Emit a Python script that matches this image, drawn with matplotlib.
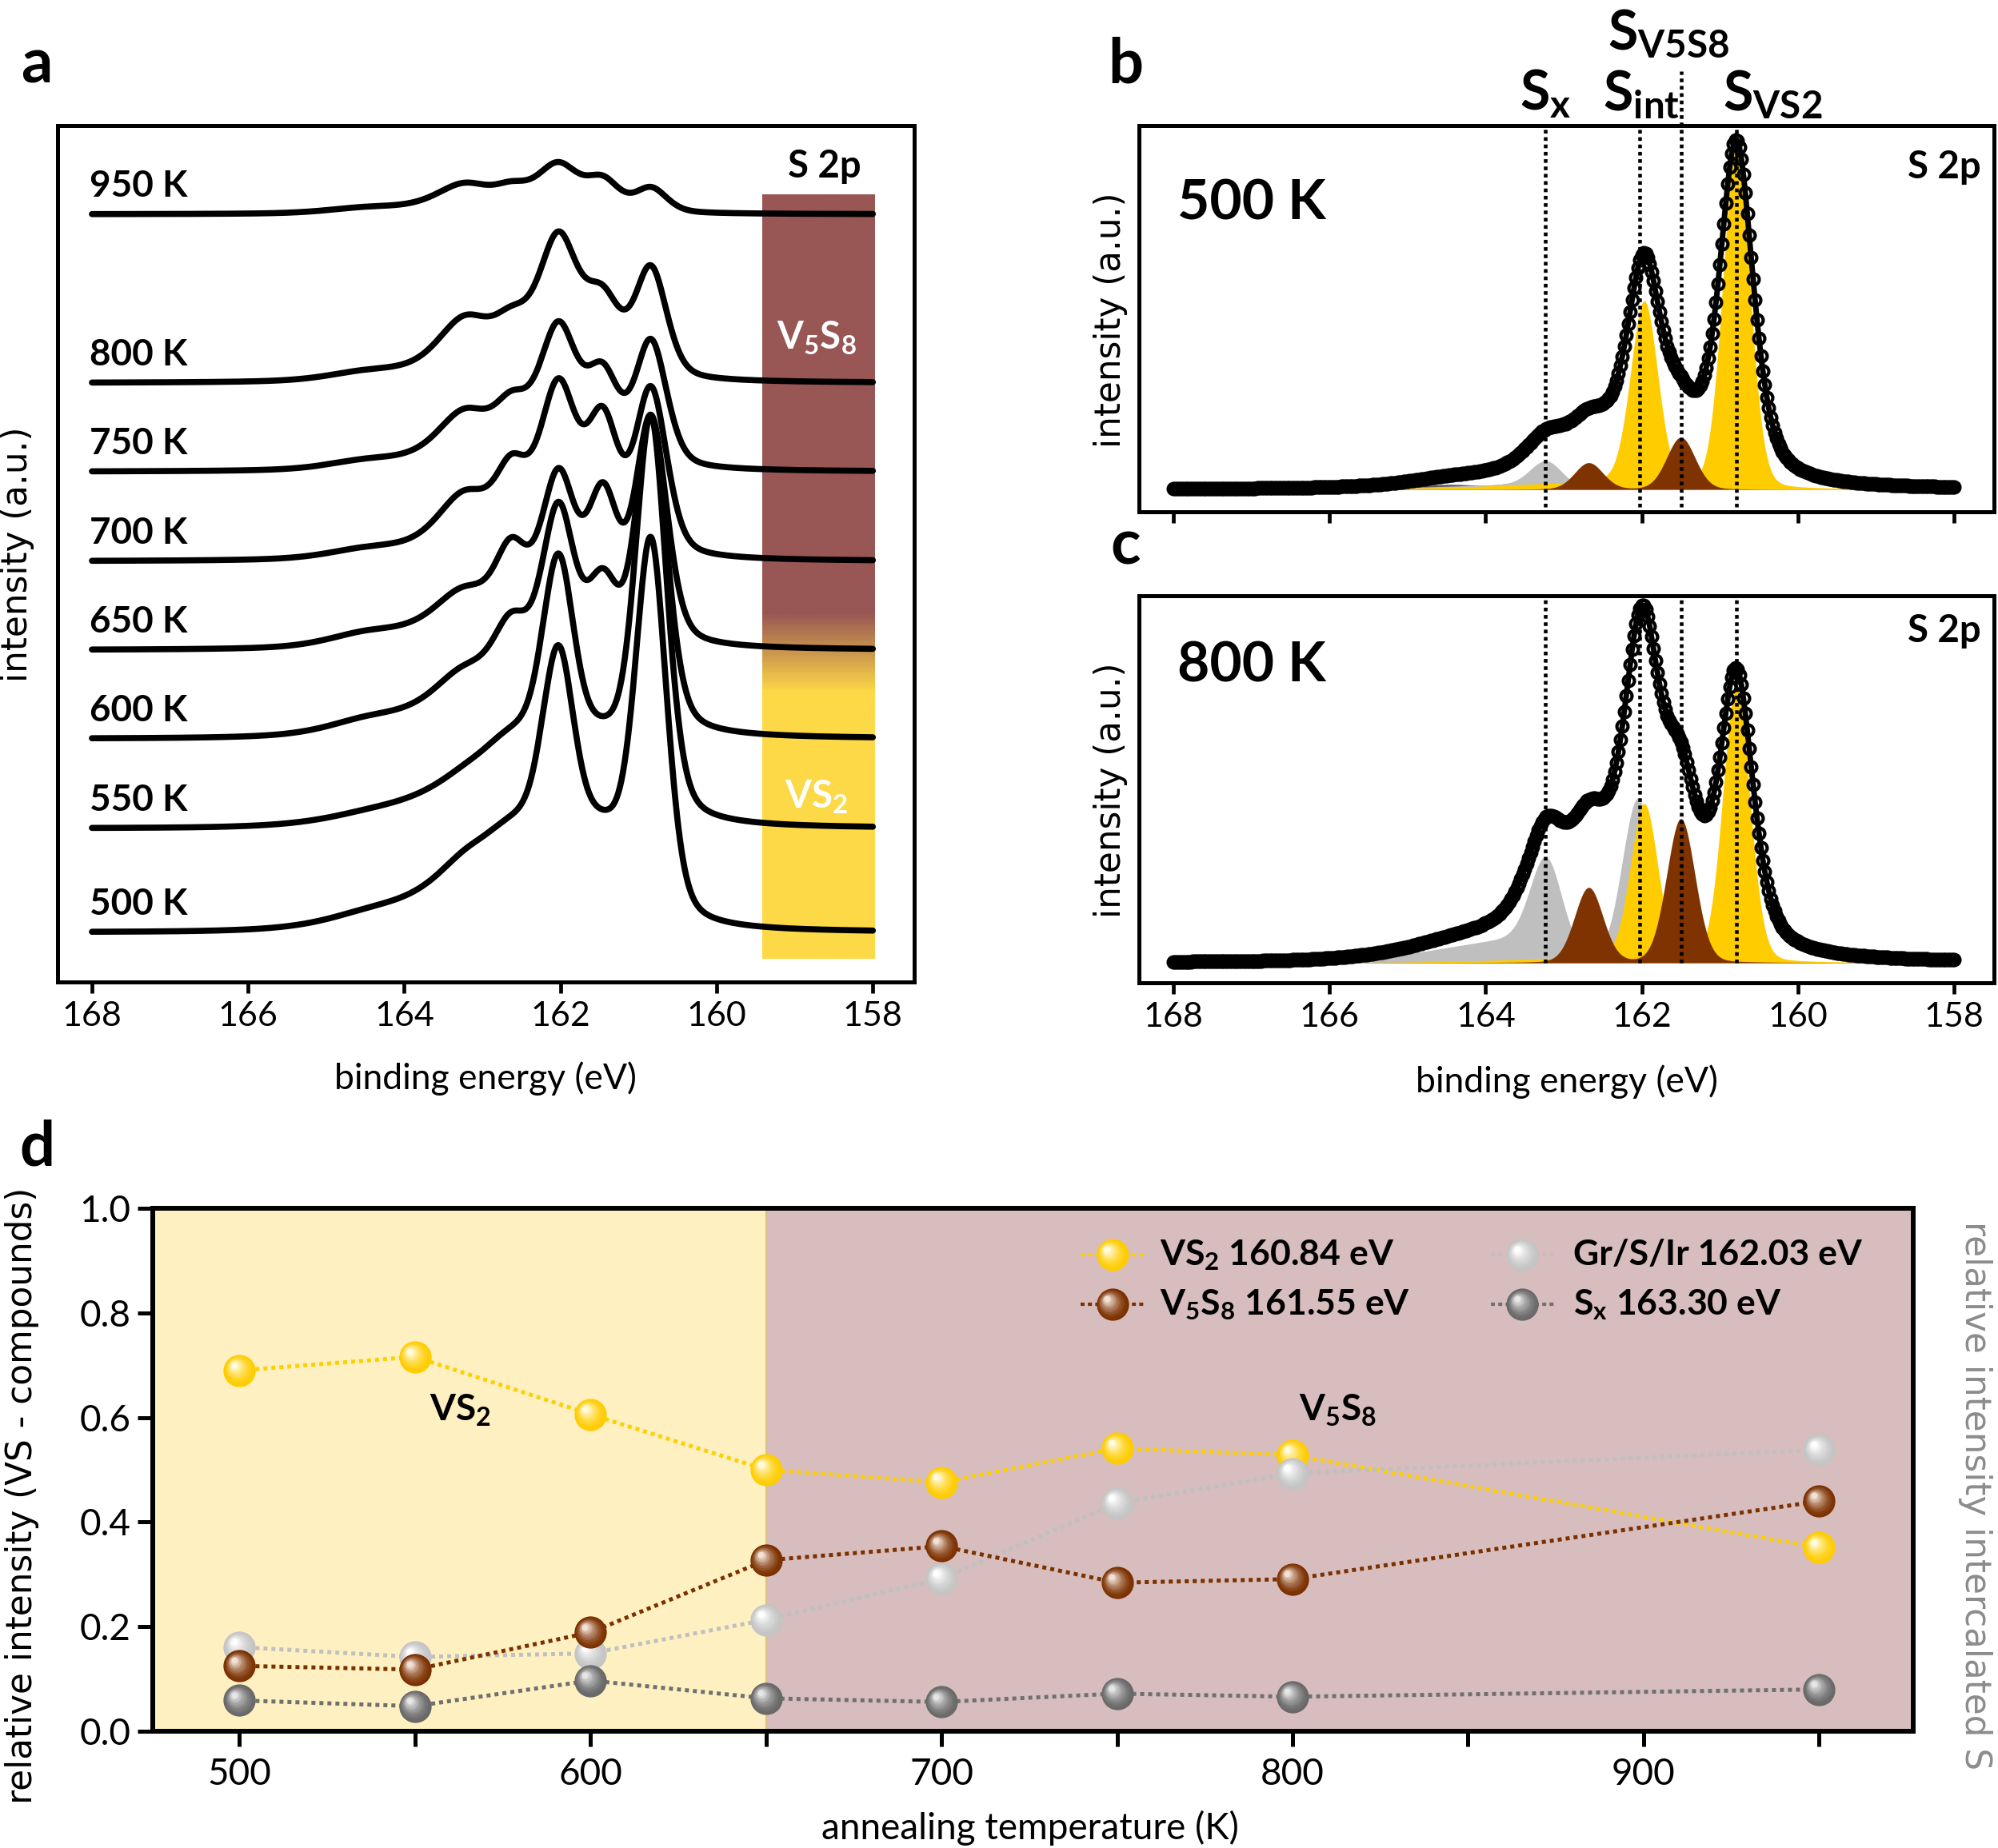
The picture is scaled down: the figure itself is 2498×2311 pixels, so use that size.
import numpy as np
import matplotlib
matplotlib.use('Agg')
import matplotlib.pyplot as plt
from matplotlib import font_manager, transforms
from matplotlib.colors import LinearSegmentedColormap, to_rgb


def pick(*names):
    have = {f.name for f in font_manager.fontManager.ttflist}
    for n in names:
        if n in have:
            return n
    return 'DejaVu Sans'


SANS = pick('Lato', 'Open Sans', 'Noto Sans')
WIDE = 'DejaVu Sans'
plt.rcParams['font.family'] = [SANS, 'DejaVu Sans']
plt.rcParams['mathtext.fontset'] = 'custom'
plt.rcParams['mathtext.rm'] = SANS
plt.rcParams['mathtext.bf'] = SANS + ':bold'
plt.rcParams['mathtext.it'] = SANS + ':italic'

# ---------------- data ----------------
# panel a: stacked S 2p spectra, described by doublet components
temps_a = [500, 550, 600, 650, 700, 750, 800, 950]
offsets_a = [62, 192, 304, 415, 526, 638, 749, 960]
comp_centers = [160.84, 161.45, 162.03, 163.30]     # VS2, V5S8, Gr/S/Ir, Sx
comp_widths = [0.48, None, 0.75, 1.15]
width_v5s8 = [0.80, 0.80, 0.55, 0.48, 0.48, 0.50, 0.55, 0.50]
amp_vs2 = [465, 490, 385, 280, 205, 155, 135, 30]
amp_v5s8 = [100, 90, 165, 170, 150, 100, 85, 35]
amp_gr = [40, 20, 50, 55, 100, 90, 100, 42]
amp_sx = [15, 8, 25, 29, 20, 19, 19, 12]
amp_tail = [60, 55, 35, 15, 10, 8, 8, 4]
spin_orbit = 1.18

# panels b, c: fit components (2p3/2 heights) at 500 K and 800 K
fit_centers = [160.79, 161.50, 162.05, 163.30]      # VS2, V5S8, Gr/S/Ir, Sx
fit_widths = [0.41, 0.43, 0.48, 0.90]
fit_500 = [425, 65, 35, 12]
ratio_500 = [0.53, 0.51, 0.85, 0.50]
tail_500 = [9, 0, 6, 0]
bg_500 = 25
fit_800 = [343, 180, 205, 8]
ratio_800 = [0.56, 0.52, 0.50, 0.50]
tail_800 = [6, 0, 30, 0]
bg_800 = 35
marker_lines = [163.24, 162.03, 161.50, 160.79]

# panel d: relative intensities
temps_d = [500, 550, 600, 650, 700, 750, 800, 950]
rel_vs2 = [0.690, 0.716, 0.606, 0.500, 0.476, 0.541, 0.528, 0.351]
rel_v5s8 = [0.125, 0.118, 0.189, 0.327, 0.354, 0.284, 0.291, 0.440]
rel_gr = [0.161, 0.142, 0.149, 0.213, 0.292, 0.436, 0.493, 0.538]
rel_sx = [0.059, 0.048, 0.097, 0.063, 0.056, 0.072, 0.066, 0.080]

YEL = '#FFCC00'
BRN = '#7F3300'
LGR = '#BFBFBF'
DGR = '#5A5A5A'


def pv(E, c, w, eta):
    x2 = ((E - c) / (w / 2)) ** 2
    return eta / (1 + x2) + (1 - eta) * np.exp(-np.log(2) * x2)


def doublet(E, c, a, w, eta, ratio=0.5):
    return a * pv(E, c, w, eta) + ratio * a * pv(E, c + spin_orbit, w, eta)


def asym(E, c, s1, s2):
    s = np.where(E < c, s1, s2)
    return np.exp(-0.5 * ((E - c) / s) ** 2)


W, H = 2498, 2311
fig = plt.figure(figsize=(W / 100, H / 100), dpi=100)


def box(l, t, r, b):
    return [l / W, 1 - b / H, (r - l) / W, (b - t) / H]


def ftext(x, y, s, **kw):
    fig.text(x / W, 1 - y / H, s, **kw)


def style(ax, lw=3.6):
    for sp in ax.spines.values():
        sp.set_linewidth(lw)
    ax.tick_params(axis='x', direction='out', length=10, width=3.4, labelsize=31, pad=7)
    ax.set_yticks([])


E = np.linspace(158, 168, 1001)

# ---------------- panel a ----------------
ax = fig.add_axes(box(72, 157, 1143, 1228))
style(ax)
cmap = LinearSegmentedColormap.from_list(
    'bar', [(0, '#FDD947'), ((362 - 29) / 956, '#FDD947'), ((461 - 29) / 956, '#985654'), (1, '#985654')])
ax.imshow(np.linspace(0, 1, 400)[:, None], extent=[159.42, 157.98, 29, 985], aspect='auto',
          cmap=cmap, origin='lower', zorder=1)
amps = [amp_vs2, amp_v5s8, amp_gr, amp_sx]
for i, T in enumerate(temps_a):
    y = offsets_a[i] + amp_tail[i] * asym(E, 162.3, 0.3, 1.4)
    for j in range(4):
        w = width_v5s8[i] if j == 1 else comp_widths[j]
        y = y + doublet(E, comp_centers[j], amps[j][i], w, 0.35)
    ax.plot(E, y, color='k', lw=5.5, solid_capstyle='round', zorder=3)
    ax.text(168.03, offsets_a[i] + 35, f'{T} K', fontsize=33, fontweight='bold', va='center', ha='left')
ax.text(158.72, 805, r'V$_\mathbf{5}$S$_\mathbf{8}$', color='white', fontsize=34, fontweight='bold',
        ha='center', va='center', zorder=4)
ax.text(158.72, 231, r'VS$_\mathbf{2}$', color='white', fontsize=34, fontweight='bold',
        ha='center', va='center', zorder=4)
ax.text(158.62, 1020, 'S 2p', fontsize=34, fontweight='bold', ha='center', va='center')
ax.set_xlim(168.44, 157.47)
ax.set_ylim(0, 1071)
ax.set_xticks([168, 166, 164, 162, 160, 158])

# ---------------- panels b, c ----------------
Ed = np.linspace(158, 168, 401)


def tail_of(j, En, t):
    if j == 2:
        return t * asym(En, fit_centers[j] + 1.25, 0.3, 1.2)
    return t * asym(En, fit_centers[j] + 1.2, 0.3, 1.5)


def fit_panel(ax, amps, ratios, tails, bg, base, top, ext):
    style(ax)
    order = [3, 2, 0, 1]
    cols = [YEL, BRN, LGR, DGR]
    total = bg * asym(Ed, 162.6, 0.25, 0.4)
    for j in range(4):
        total = total + doublet(Ed, fit_centers[j], amps[j], fit_widths[j] * 1.25, 0.55, ratios[j])
        total = total + tail_of(j, Ed, tails[j])
    for j in order:
        comp = doublet(E, fit_centers[j], amps[j], fit_widths[j], 0.12, ratios[j]) + tail_of(j, E, tails[j])
        ax.fill_between(E, base, base + comp, color=cols[j], lw=0, zorder=2)
    for k, xv in enumerate(marker_lines):
        y1 = ext if (k == 2 and ext) else top
        ax.plot([xv, xv], [base if not ext else 6, y1], color='k', lw=3.3, ls=(0, (1, 1)),
                clip_on=False, zorder=3)
    ax.plot(Ed, base + total, color='k', lw=5, zorder=4)
    ax.plot(Ed, base + total, ls='none', marker='o', ms=10, mfc='none', mec='k', mew=3, zorder=4)
    ax.set_xlim(168.44, 157.49)
    ax.set_ylim(0, top)
    ax.set_xticks([168, 166, 164, 162, 160, 158])


ax_b = fig.add_axes(box(1424, 157, 2493, 640))
fit_panel(ax_b, fit_500, ratio_500, tail_500, bg_500, 28, 483, 551)
ax_b.set_xticklabels([])
ax_b.text(0.985, 431 / 483, 'S 2p', transform=ax_b.transAxes, fontsize=34, fontweight='bold',
          ha='right', va='center')
ax_b.text(167.95, 385, '500 K', fontsize=50, fontweight='bold', va='center', ha='left')
for xv, yv, lab in [(163.23, 502, r'$\mathbf{S_{x}}$'), (162.01, 502, r'$\mathbf{S_{int}}$'),
                    (161.66, 578, r'$\mathbf{S_{V5S8}}$'), (160.33, 502, r'$\mathbf{S_{VS2}}$')]:
    ax_b.text(xv, yv, lab, fontsize=49, ha='center', va='baseline')

ax_c = fig.add_axes(box(1424, 745, 2493, 1229))
fit_panel(ax_c, fit_800, ratio_800, tail_800, bg_800, 25, 484, None)
ax_c.text(0.985, 440 / 484, 'S 2p', transform=ax_c.transAxes, fontsize=34, fontweight='bold',
          ha='right', va='center')
ax_c.text(167.95, 396, '800 K', fontsize=50, fontweight='bold', va='center', ha='left')

# ---------------- panel d ----------------
ax = fig.add_axes(box(191, 1511, 2392, 2165))
for sp in ax.spines.values():
    sp.set_linewidth(4.3)
ax.set_xlim(475.3, 976.8)
ax.set_ylim(0, 1)
ax.axvspan(475.3, 650, color='#FEF0C0', lw=0, zorder=0)
ax.axvspan(650, 976.8, color='#D7BDBD', lw=0, zorder=0)
ax.axvline(650, color='#D9C38A', lw=1.5, zorder=0.5)
ax.set_xticks(np.arange(500, 951, 50))
ax.set_xticklabels([str(t) if t % 100 == 0 else '' for t in range(500, 951, 50)])
ax.set_yticks([0, 0.2, 0.4, 0.6, 0.8, 1.0])
ax.set_yticklabels(['0.0', '0.2', '0.4', '0.6', '0.8', '1.0'])
ax.tick_params(direction='out', length=14, width=3.6, labelsize=33)
ax.tick_params(axis='x', pad=10)
ax.tick_params(axis='y', pad=6)


def sphere(ax, x, y, color, light, trans, z, d=29):
    base = np.array(to_rgb(color))
    hl = np.array(to_rgb(light))
    n = 12
    for k in range(n):
        f = k / (n - 1)
        c = base * (1 - f ** 1.6) + hl * f ** 1.6
        size = d * (1 - 0.82 * f)
        off = transforms.offset_copy(trans, fig=ax.figure, x=-0.17 * d * f, y=0.17 * d * f, units='points')
        ax.scatter(x, y, s=size ** 2, color=c, transform=off, zorder=z, linewidths=0)


series = [
    (rel_vs2, '#FFCC00', '#FFD000', '#FFFBE0', 5),
    (rel_gr, '#C4C4C4', '#C0C0C0', '#FFFFFF', 6),
    (rel_v5s8, '#7B3000', '#7B3000', '#F2E2D6', 7),
    (rel_sx, '#686868', '#707070', '#E6E6E6', 8),
]
for vals, col, lcol, light, z in series:
    ax.plot(temps_d, vals, color=lcol, lw=3.6, ls=(0, (1, 1)), zorder=3)
    sphere(ax, temps_d, vals, col, light, ax.transData, z)

leg = [
    (0.545, 0.911, 0.572, r'VS$_\mathbf{2}$ 160.84 eV', series[0]),
    (0.545, 0.816, 0.572, r'V$_\mathbf{5}$S$_\mathbf{8}$ 161.55 eV', series[2]),
    (0.778, 0.911, 0.807, r'Gr/S/Ir 162.03 eV', series[1]),
    (0.778, 0.816, 0.807, r'S$_\mathbf{x}$ 163.30 eV', series[3]),
]
for mx, my, tx, lab, (vals, col, lcol, light, z) in leg:
    ax.plot([mx - 0.018, mx + 0.018], [my, my], transform=ax.transAxes, color=lcol,
            lw=3, ls=(0, (1.2, 1)), zorder=9)
    sphere(ax, [mx], [my], col, light, ax.transAxes, 10)
    ax.text(tx, my, lab, transform=ax.transAxes, fontsize=32, fontweight='bold', va='center', ha='left')

ax.text(563, 0.614, r'VS$_\mathbf{2}$', fontsize=33, fontweight='bold', ha='center', va='center')
ax.text(813, 0.614, r'V$_\mathbf{5}$S$_\mathbf{8}$', fontsize=33, fontweight='bold', ha='center', va='center')

# ---------------- labels ----------------
ftext(607, 1349, 'binding energy (eV)', fontsize=32, ha='center', va='center')
ftext(1959, 1353, 'binding energy (eV)', fontsize=32, ha='center', va='center')
ftext(22, 693, 'intensity (a.u.)', fontsize=31.5, family=WIDE, rotation=90, ha='center', va='center')
ftext(1388, 400, 'intensity (a.u.)', fontsize=31.5, family=WIDE, rotation=90, ha='center', va='center')
ftext(1388, 988, 'intensity (a.u.)', fontsize=31.5, family=WIDE, rotation=90, ha='center', va='center')
ftext(1288, 2286, 'annealing temperature (K)', fontsize=33, ha='center', va='center')
ftext(28, 1870, 'relative intensity (VS - compounds)', fontsize=31.5, family=WIDE, rotation=90,
      ha='center', va='center')
ftext(2470, 1870, 'relative intensity intercalated S', fontsize=31.5, family=WIDE, rotation=270,
      color='#8C8C8C', ha='center', va='center')
for s, x, y in [('a', 46, 103), ('b', 1407, 103), ('c', 1407, 705), ('d', 46, 1457)]:
    ftext(x, y, s, fontsize=56, fontweight='bold', ha='center', va='baseline')

fig.savefig('out.png', dpi=100)
